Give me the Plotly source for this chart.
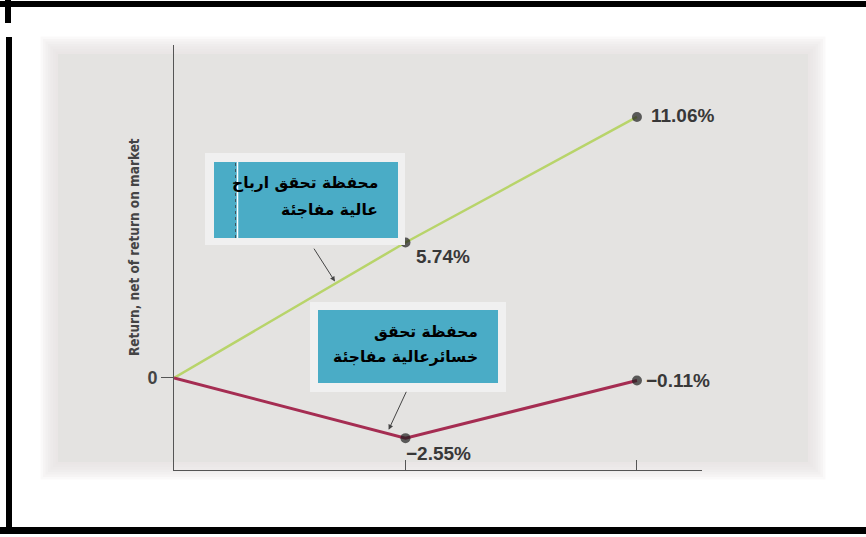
import plotly.graph_objects as go

W, H = 866, 537

# ---- data -------------------------------------------------------------
periods = [0, 1, 2]
period_ticks = [1, 2]
surprise_up = [0, 5.74, 11.06]
surprise_down = [0, -2.55, -0.11]
up_labels = ["", "5.74%", "11.06%"]
down_labels = ["", "−2.55%", "−0.11%"]
y_title = "Return, net of return on market"
box_up_lines = ["محفظة تحقق ارباح", "عالية مفاجئة"]
box_down_lines = ["محفظة تحقق", "خسائرعالية مفاجئة"]


def px(x):
    return x / W


def py(y):
    return 1 - y / H


NUM_FONT = dict(family="Liberation Sans, Arial, sans-serif", size=19, color="#383838")
AR_FONT = dict(family="DejaVu Sans, Noto Sans, sans-serif", size=15.5, color="#000000")
GREEN = "#b8d46a"
RED = "#a52d52"
TEAL = "#4aacc6"

fig = go.Figure()

fig.add_trace(go.Scatter(
    x=periods, y=surprise_up, mode="lines+markers",
    line=dict(color=GREEN, width=2.5),
    marker=dict(size=[0, 10, 10], color="#1e1e1e", line=dict(width=0)),
    hoverinfo="skip", showlegend=False, cliponaxis=False,
))
fig.add_trace(go.Scatter(
    x=periods, y=surprise_down, mode="lines+markers",
    line=dict(color=RED, width=3),
    marker=dict(size=[0, 10, 10], color="#1e1e1e", line=dict(width=0)),
    hoverinfo="skip", showlegend=False, cliponaxis=False,
))

shapes = []

# soft grey backdrop: opaque core with feathered edges
core = (58, 54, 808, 462)
steps = 7
for i in range(steps, 0, -1):
    d = i * 2.5
    shapes.append(dict(type="rect", xref="paper", yref="paper", layer="below",
                       x0=px(core[0] - d), x1=px(core[2] + d),
                       y0=py(core[3] + d), y1=py(core[1] - d),
                       fillcolor="#e4e3e1", opacity=0.2, line=dict(width=0)))
shapes.append(dict(type="rect", xref="paper", yref="paper", layer="below",
                   x0=px(core[0]), x1=px(core[2]), y0=py(core[3]), y1=py(core[1]),
                   fillcolor="#e4e3e1", line=dict(width=0)))

# black frame pieces
frame = [(0, 1, 866, 7), (5, 0, 11, 23), (6, 37, 12, 533), (0, 527, 866, 534)]
for x0, y0, x1, y1 in frame:
    shapes.append(dict(type="rect", xref="paper", yref="paper", layer="above",
                       x0=px(x0), x1=px(x1), y0=py(y1), y1=py(y0),
                       fillcolor="#000000", line=dict(width=0)))


def callout(outer, inner):
    shapes.append(dict(type="rect", xref="paper", yref="paper", layer="above",
                       x0=px(outer[0]), x1=px(outer[2]), y0=py(outer[3]), y1=py(outer[1]),
                       fillcolor="#f0f0f0", line=dict(width=0)))
    shapes.append(dict(type="rect", xref="paper", yref="paper", layer="above",
                       x0=px(inner[0]), x1=px(inner[2]), y0=py(inner[3]), y1=py(inner[1]),
                       fillcolor=TEAL, line=dict(width=0)))


callout((205, 153, 405, 245), (214, 162, 398, 238))
callout((310, 302, 506, 392), (318, 310, 498, 383))
# divider inside the upper callout
shapes.append(dict(type="line", xref="paper", yref="paper", layer="above",
                   x0=px(235.5), x1=px(235.5), y0=py(238), y1=py(162),
                   line=dict(color="#3d5560", width=1, dash="dot")))
shapes.append(dict(type="line", xref="paper", yref="paper", layer="above",
                   x0=px(237.5), x1=px(237.5), y0=py(238), y1=py(162),
                   line=dict(color="#ffffff", width=1.5)))

annotations = []

# value labels next to the points
for xv, yv, t in zip(periods, surprise_up, up_labels):
    if not t:
        continue
    if xv == 1:
        annotations.append(dict(x=xv, y=yv, text="<b>%s</b>" % t, xanchor="left", yanchor="middle",
                                xshift=9, yshift=-14, showarrow=False, font=NUM_FONT))
    else:
        annotations.append(dict(x=xv, y=yv, text="<b>%s</b>" % t, xanchor="left", yanchor="middle",
                                xshift=12, yshift=1, showarrow=False, font=NUM_FONT))
for xv, yv, t in zip(periods, surprise_down, down_labels):
    if not t:
        continue
    if xv == 1:
        annotations.append(dict(x=xv, y=yv, text="<b>%s</b>" % t, xanchor="left", yanchor="middle",
                                xshift=-1, yshift=-15, showarrow=False, font=NUM_FONT))
    else:
        annotations.append(dict(x=xv, y=yv, text="<b>%s</b>" % t, xanchor="left", yanchor="middle",
                                xshift=7, yshift=0, showarrow=False, font=NUM_FONT))

# callout text, one annotation per line
for i, line in enumerate(box_up_lines):
    annotations.append(dict(xref="paper", yref="paper", x=px(380), y=py(183 + 27 * i),
                            text="<b>%s</b>" % line, xanchor="right", yanchor="middle",
                            align="right", showarrow=False, font=AR_FONT))
for i, line in enumerate(box_down_lines):
    annotations.append(dict(xref="paper", yref="paper", x=px(480), y=py(332 + 25 * i),
                            text="<b>%s</b>" % line, xanchor="right", yanchor="middle",
                            align="right", showarrow=False, font=AR_FONT))

# pointer arrows from the callouts to the lines
annotations.append(dict(x=0.7, y=0.7 * surprise_up[1], ax=-23, ay=-36,
                        showarrow=True, arrowhead=2, arrowsize=1, arrowwidth=1,
                        arrowcolor="#444444", standoff=2, text=""))
annotations.append(dict(x=0.92, y=0.92 * surprise_down[1], ax=20, ay=-43,
                        showarrow=True, arrowhead=2, arrowsize=1, arrowwidth=1,
                        arrowcolor="#444444", standoff=4, text=""))

# y-axis title
annotations.append(dict(xref="paper", yref="paper", x=px(134), y=py(247),
                        text="<b>%s</b>" % y_title, textangle=-90, showarrow=False,
                        xanchor="center", yanchor="middle",
                        font=dict(family="DejaVu Sans Condensed, Liberation Sans, sans-serif",
                                  size=13.5, color="#444444")))

fig.update_layout(
    width=W, height=H,
    margin=dict(l=0, r=0, t=0, b=0),
    paper_bgcolor="#ffffff",
    plot_bgcolor="rgba(0,0,0,0)",
    shapes=shapes,
    annotations=annotations,
    xaxis=dict(domain=[px(174), px(702)], range=[0, 2.281],
               showline=True, linecolor="#555555", linewidth=1,
               showgrid=False, zeroline=False,
               tickmode="array", tickvals=period_ticks, ticks="inside",
               ticklen=10, tickcolor="#555555", tickwidth=1,
               showticklabels=False, fixedrange=True),
    yaxis=dict(domain=[py(470), py(45)], range=[-3.90, 14.11],
               showline=True, linecolor="#555555", linewidth=1,
               showgrid=False, zeroline=False,
               tickmode="array", tickvals=[0], ticktext=["<b>0</b>"],
               ticks="outside", ticklen=12, tickcolor="#555555", tickwidth=1,
               tickfont=dict(family="Liberation Sans, Arial, sans-serif", size=18, color="#444444"),
               fixedrange=True),
)

fig.write_html("out.html")
